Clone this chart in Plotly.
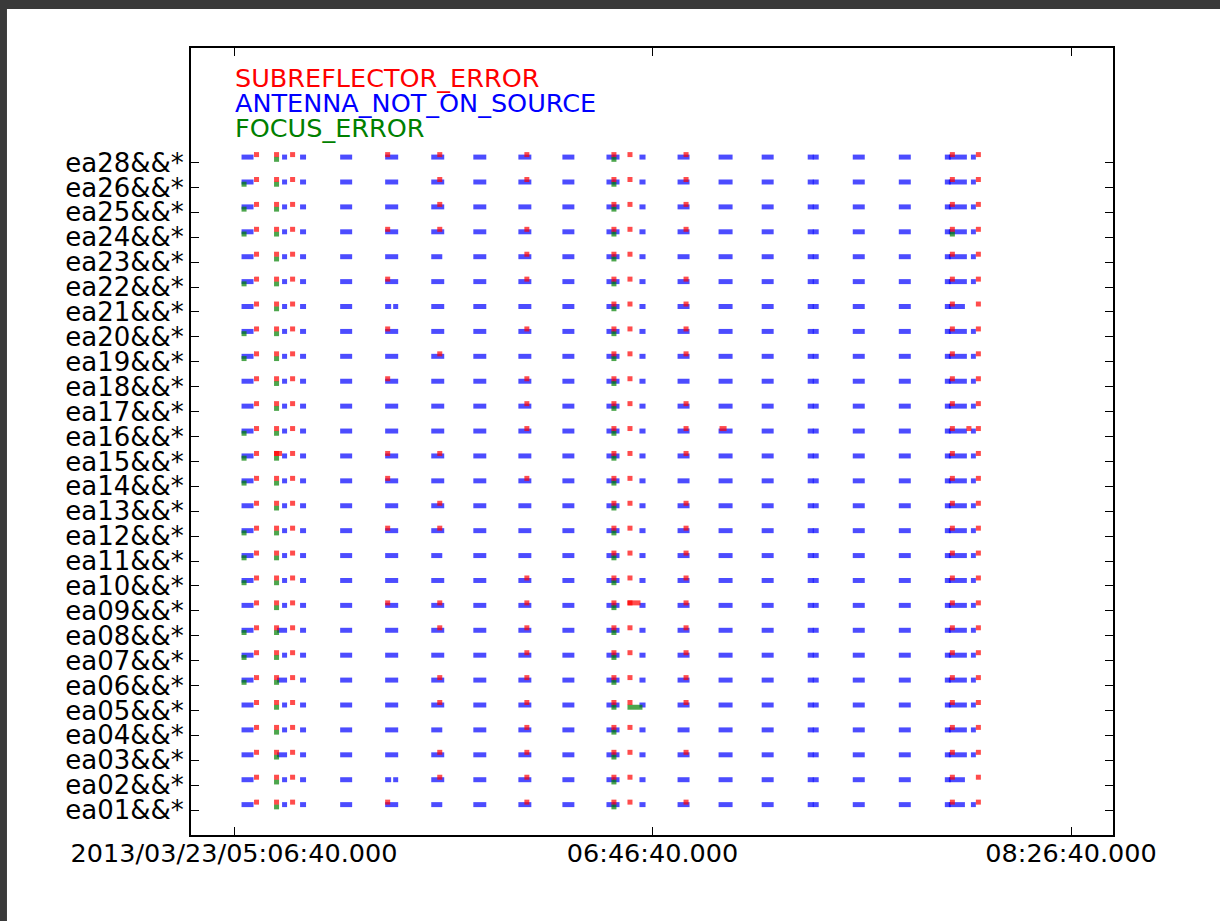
import plotly.graph_objects as go
import pandas as pd

day = "2013-03-23"

# antennas, bottom to top of the plot
antennas = ["ea01", "ea02", "ea03", "ea04", "ea05", "ea06", "ea07", "ea08", "ea09",
            "ea10", "ea11", "ea12", "ea13", "ea14", "ea15", "ea16", "ea17", "ea18",
            "ea19", "ea20", "ea21", "ea22", "ea23", "ea24", "ea25", "ea26", "ea28"]

# ANTENNA_NOT_ON_SOURCE: time ranges shared by every antenna
offsrc_scans = [
    ("05:08:28", "05:11:20"), ("05:18:09", "05:19:21"), ("05:22:27", "05:23:53"),
    ("05:32:02", "05:34:54"), ("05:42:47", "05:45:54"), ("05:53:48", "05:56:54"),
    ("06:03:51", "06:06:57"), ("06:14:37", "06:17:43"), ("06:25:08", "06:28:00"),
    ("06:35:40", "06:37:34"), ("06:37:20", "06:38:47"), ("06:43:33", "06:45:00"),
    ("06:52:39", "06:55:31"), ("07:02:27", "07:05:48"), ("07:12:45", "07:15:37"),
    ("07:23:45", "07:25:11"), ("07:24:57", "07:26:23"), ("07:34:31", "07:37:23"),
    ("07:45:31", "07:48:23"), ("07:56:31", "07:57:57"), ("07:57:29", "08:01:47"),
    ("08:02:45", "08:03:56"),
]
# antenna specific differences (index into offsrc_scans)
offsrc_early2 = ["ea03", "ea06", "ea08"]          # scan 1 starts at 05:16:57
offsrc_split5 = ["ea02", "ea21"]                  # scan 4 split in two
offsrc_short6 = ["ea01", "ea04", "ea11", "ea23"]  # scan 5 ends at 05:56:26
offsrc_short_last = ["ea01", "ea02", "ea21"]      # scan 20 ends at 08:01:19
offsrc_no_last = ["ea02", "ea21"]                 # no scan 21

# SUBREFLECTOR_ERROR
subref_common = [
    ("05:11:27", "05:12:39"), ("05:16:14", "05:17:26"), ("05:20:04", "05:21:16"),
    ("06:36:51", "06:38:03"), ("06:40:41", "06:41:53"), ("07:57:43", "07:58:55"),
    ("08:03:56", "08:05:08"),
]
subref_a = ("05:42:47", "05:43:59")
subref_a_ants = ["ea28", "ea24", "ea22", "ea20", "ea18", "ea15", "ea14", "ea12", "ea09", "ea01"]
subref_b = ("05:55:14", "05:56:26")
subref_b_ants = ["ea28", "ea26", "ea25", "ea24", "ea19", "ea15", "ea13", "ea12", "ea09",
                 "ea08", "ea06", "ea05", "ea03", "ea02"]
subref_c = ("06:16:03", "06:17:14")
subref_c_ants = ["ea28", "ea26", "ea24", "ea23", "ea22", "ea20", "ea18", "ea17", "ea16",
                 "ea14", "ea10", "ea09", "ea08", "ea07", "ea06", "ea05", "ea04", "ea03",
                 "ea02", "ea01"]
subref_d = ("06:54:05", "06:55:17")
subref_d_ants = [a for a in antennas if a not in ("ea23", "ea18", "ea14", "ea04", "ea02")]
subref_extra = {
    "ea16": [("07:02:41", "07:04:22"), ("08:01:40", "08:02:52")],
    "ea15": [("05:16:14", "05:18:09")],
    "ea09": [("06:40:41", "06:43:48")],
}

# FOCUS_ERROR
focus_common = [("05:16:14", "05:17:26"), ("06:36:51", "06:38:03")]
focus_a = ("05:08:28", "05:09:40")
focus_a_ants = ["ea26", "ea25", "ea24", "ea22", "ea20", "ea19", "ea16", "ea15", "ea14",
                "ea12", "ea11", "ea10", "ea08", "ea07", "ea06"]
focus_extra = {
    "ea05": [("06:40:41", "06:44:16")],
    "ea24": [("07:57:43", "07:58:55")],
}

reasons = ["SUBREFLECTOR_ERROR", "ANTENNA_NOT_ON_SOURCE", "FOCUS_ERROR"]
reason_colors = ["red", "blue", "green"]

x_ticks = ["05:06:40", "06:46:40", "08:26:40"]
x_ticktext = ["2013/03/23/05:06:40.000", "06:46:40.000", "08:26:40.000"]
x_range = ["04:56:23.5", "08:36:42"]


def ts(t):
    return pd.Timestamp(f"{day} {t}")


def collect(pairs):
    ys, base, dur = [], [], []
    for y, (t0, t1) in pairs:
        ys.append(y)
        base.append(ts(t0).strftime("%Y-%m-%d %H:%M:%S"))
        dur.append((ts(t1) - ts(t0)).total_seconds() * 1000)
    return ys, base, dur


blue, red, green = [], [], []
for i, ant in enumerate(antennas):
    row = i + 1
    scans = list(offsrc_scans)
    if ant in offsrc_early2:
        scans[1] = ("05:16:57", scans[1][1])
    if ant in offsrc_split5:
        scans[4] = ("05:42:47", "05:44:13")
        scans.append(("05:44:42", "05:45:54"))
    if ant in offsrc_short6:
        scans[5] = (scans[5][0], "05:56:26")
    if ant in offsrc_short_last:
        scans[20] = (scans[20][0], "08:01:19")
    if ant in offsrc_no_last:
        scans.remove(offsrc_scans[21])
    blue += [(row, s) for s in scans]

    sub = list(subref_common)
    for rng, ants in [(subref_a, subref_a_ants), (subref_b, subref_b_ants),
                      (subref_c, subref_c_ants), (subref_d, subref_d_ants)]:
        if ant in ants:
            sub.append(rng)
    sub += subref_extra.get(ant, [])
    red += [(row, s) for s in sub]

    foc = list(focus_common)
    if ant in focus_a_ants:
        foc.append(focus_a)
    foc += focus_extra.get(ant, [])
    green += [(row, s) for s in foc]

fig = go.Figure()
# reason -> (data, y offset, colour)
for data, off, col in [(blue, 0.22, "rgba(0,0,255,0.7)"),
                       (green, 0.13, "rgba(0,128,0,0.7)"),
                       (red, 0.32, "rgba(255,0,0,0.7)")]:
    ys, base, dur = collect(data)
    fig.add_trace(go.Bar(y=[y + off for y in ys], x=dur, base=base, orientation="h",
                         width=0.2, marker=dict(color=col, line=dict(width=0)),
                         showlegend=False, hoverinfo="skip"))

# legend text in the top left corner
for k, (name, col) in enumerate(zip(reasons, reason_colors)):
    fig.add_annotation(x=ts("05:06:26"), y=30.4 - k, text=name, showarrow=False,
                       xanchor="left", yanchor="middle",
                       font=dict(size=25.5, color=col))

# dark window frame seen at the edges of the screenshot
fig.add_shape(type="rect", xref="paper", yref="paper", x0=-0.2072, x1=-0.1996,
              y0=-0.1093, y1=1.061, fillcolor="#3a3a3a", line_width=0, layer="above")
fig.add_shape(type="rect", xref="paper", yref="paper", x0=-0.2072, x1=1.1161,
              y0=1.0496, y1=1.061, fillcolor="#3a3a3a", line_width=0, layer="above")

fig.update_layout(
    width=1220, height=921,
    margin=dict(l=191, r=107, t=48, b=86),
    plot_bgcolor="white", paper_bgcolor="white",
    barmode="overlay",
    font=dict(family="DejaVu Sans", size=25.5, color="black"),
)
fig.update_xaxes(type="date", range=[ts(t) for t in x_range],
                 tickvals=[ts(t) for t in x_ticks], ticktext=x_ticktext,
                 ticks="inside", ticklen=8, tickwidth=1, tickcolor="black",
                 ticklabelstandoff=-6,
                 showline=True, linecolor="black", linewidth=2, mirror="allticks",
                 showgrid=False, zeroline=False)
fig.update_yaxes(range=[0, 31.6], tickvals=list(range(1, len(antennas) + 1)),
                 ticktext=[a + "&&*" for a in antennas], tickfont=dict(size=26),
                 ticks="inside", ticklen=8, tickwidth=1, tickcolor="black",
                 showline=True, linecolor="black", linewidth=2, mirror="allticks",
                 showgrid=False, zeroline=False)

# the page body has a default margin; remove it so the figure fills the window
fig.write_html("out.html", config={"displayModeBar": False},
               post_script="document.body.style.margin='0px';")
